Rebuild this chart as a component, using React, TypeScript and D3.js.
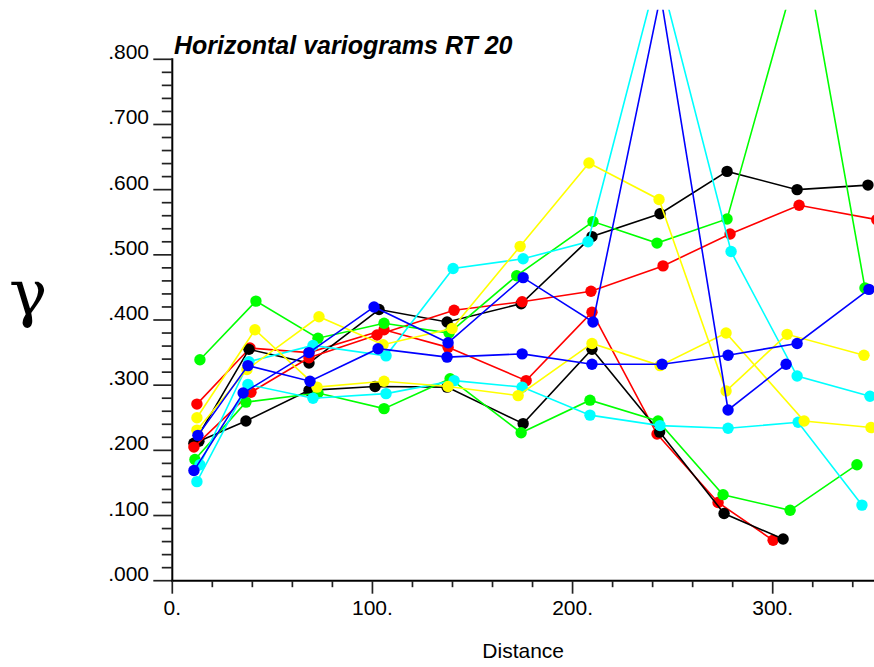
// Horizontal variograms RT 20 — twelve experimental variograms (two per colour),
// drawn with d3 scales + line generator straight into JSX.

import * as d3 from "d3";

const W = 874;
const H = 667;
const FONT = "Liberation Sans, Arial, Helvetica, sans-serif";

// lag distances and gamma values, one pair of arrays per curve
const redLowDist = [12.3, 38.8, 68.3, 105.8, 137.8, 176.8, 209.7, 242.2, 272.7, 300.2];
const redLowGamma = [0.271, 0.357, 0.35, 0.385, 0.358, 0.307, 0.412, 0.225, 0.12, 0.062];

const black2Dist = [13.3, 36.8, 68.3, 101.3, 137.3, 175.3, 209.7, 243.5, 275.7, 305.2];
const black2Gamma = [0.214, 0.245, 0.292, 0.298, 0.297, 0.241, 0.355, 0.228, 0.103, 0.064];

const black1Dist = [10.8, 38.3, 68.3, 103.3, 137.3, 174.3, 209.7, 243.7, 277.2, 312.2, 347.6];
const black1Gamma = [0.211, 0.355, 0.334, 0.416, 0.397, 0.425, 0.528, 0.563, 0.628, 0.6, 0.607];

const redHighDist = [10.8, 39.3, 68.3, 102.3, 140.8, 174.8, 209.2, 245.2, 278.7, 313.2, 352];
const redHighGamma = [0.205, 0.289, 0.342, 0.377, 0.415, 0.428, 0.444, 0.483, 0.532, 0.576, 0.554];

const green1Dist = [13.8, 41.8, 72.8, 105.8, 138.3, 172.1, 210.2, 242.2, 277.2, 315.5, 346.1];
const green1Gamma = [0.339, 0.429, 0.372, 0.395, 0.38, 0.468, 0.551, 0.518, 0.555, 0.975, 0.449];

const green2Dist = [11.3, 36.8, 72.8, 105.8, 138.8, 174.3, 208.7, 242.7, 275.2, 308.7, 342.1];
const green2Gamma = [0.186, 0.274, 0.288, 0.264, 0.31, 0.227, 0.277, 0.245, 0.132, 0.108, 0.178];

const cyan1Dist = [13.8, 38.3, 70.3, 106.8, 140.3, 175.3, 207.7, 243.0, 279.2, 312.2, 348.6];
const cyan1Gamma = [0.178, 0.336, 0.361, 0.345, 0.479, 0.494, 0.52, 0.938, 0.505, 0.314, 0.283];

const cyan2Dist = [12.3, 37.8, 70.3, 106.8, 140.8, 174.8, 208.7, 243.7, 277.7, 312.7, 344.6];
const cyan2Gamma = [0.152, 0.301, 0.28, 0.287, 0.307, 0.297, 0.254, 0.238, 0.234, 0.243, 0.116];

const yellowADist = [12.3, 37.3, 73.3, 105.3, 139.8, 173.8, 208.2, 243.2, 276.7, 307.2, 345.6];
const yellowAGamma = [0.231, 0.324, 0.405, 0.362, 0.387, 0.513, 0.641, 0.585, 0.291, 0.378, 0.346];

const yellowBDist = [12.3, 41.3, 72.3, 105.8, 137.8, 172.8, 209.7, 243.7, 276.7, 315.7, 349.1];
const yellowBGamma = [0.25, 0.385, 0.297, 0.306, 0.298, 0.284, 0.364, 0.33, 0.38, 0.245, 0.235];

const blueADist = [10.8, 35.4, 68.3, 100.8, 137.8, 175.3, 210.2, 244.0, 277.7, 306.7];
const blueAGamma = [0.169, 0.288, 0.35, 0.42, 0.365, 0.465, 0.397, 0.898, 0.262, 0.332];

const blueBDist = [12.8, 37.8, 68.8, 102.8, 137.3, 174.8, 209.7, 244.7, 277.7, 312.2, 348.1];
const blueBGamma = [0.223, 0.33, 0.306, 0.356, 0.343, 0.348, 0.332, 0.332, 0.346, 0.364, 0.447];

const SERIES = [
  { color: "#ff0000", dist: redLowDist, gamma: redLowGamma },
  { color: "#000000", dist: black2Dist, gamma: black2Gamma },
  { color: "#000000", dist: black1Dist, gamma: black1Gamma },
  { color: "#ff0000", dist: redHighDist, gamma: redHighGamma },
  { color: "#00ff00", dist: green1Dist, gamma: green1Gamma },
  { color: "#00ff00", dist: green2Dist, gamma: green2Gamma },
  { color: "#00ffff", dist: cyan1Dist, gamma: cyan1Gamma },
  { color: "#00ffff", dist: cyan2Dist, gamma: cyan2Gamma },
  { color: "#ffff00", dist: yellowADist, gamma: yellowAGamma },
  { color: "#ffff00", dist: yellowBDist, gamma: yellowBGamma },
  { color: "#0000ff", dist: blueADist, gamma: blueAGamma },
  { color: "#0000ff", dist: blueBDist, gamma: blueBGamma },
];

const X_MAJOR = [0, 100, 200, 300];
const X_LABELS = ["0.", "100.", "200.", "300."];
const Y_MAJOR = [0, 0.1, 0.2, 0.3, 0.4, 0.5, 0.6, 0.7, 0.8];
const Y_LABELS = [".000", ".100", ".200", ".300", ".400", ".500", ".600", ".700", ".800"];

export default function App() {
  const x = d3.scaleLinear().domain([0, 300]).range([172.3, 772.7]);
  const y = d3.scaleLinear().domain([0, 0.8]).range([580.7, 59.3]);

  const x0 = x(0);
  const y0 = y(0);
  const clipTop = y(0.876);

  const line = d3
    .line<[number, number]>()
    .x((d) => x(d[0]))
    .y((d) => y(d[1]));

  const xMinor = d3.range(0, 341, 20);
  const yMinor = d3.range(0, 41).map((i) => i * 0.02);

  return (
    <svg
      width={W}
      height={H}
      style={{ position: "absolute", left: 0, top: 0, background: "#fff" }}
      fontFamily={FONT}
    >
      <defs>
        <clipPath id="plot-clip">
          <rect x={x0} y={clipTop} width={W - x0 + 20} height={y0 - clipTop} />
        </clipPath>
      </defs>

      {/* data */}
      <g clipPath="url(#plot-clip)">
        {SERIES.map((s, i) => {
          const pts = s.dist.map((d, j) => [d, s.gamma[j]] as [number, number]);
          return (
            <g key={i}>
              <path d={line(pts) ?? ""} fill="none" stroke={s.color} strokeWidth={1.6} />
              {pts.map((p, j) => (
                <circle key={j} cx={x(p[0])} cy={y(p[1])} r={5.7} fill={s.color} />
              ))}
            </g>
          );
        })}
      </g>

      {/* y axis */}
      <line x1={x0} x2={x0} y1={y(0.8) - 1} y2={y0 + 1} stroke="#000" strokeWidth={2} />
      {yMinor.map((v, i) => (
        <line
          key={i}
          x1={x0 - (i % 5 === 0 ? 19 : 10.5)}
          x2={x0}
          y1={y(v)}
          y2={y(v)}
          stroke="#222"
          strokeWidth={1.7}
        />
      ))}
      {Y_MAJOR.map((v, i) => (
        <text key={i} x={149} y={y(v)} textAnchor="end" fontSize={21} fill="#000">
          {Y_LABELS[i]}
        </text>
      ))}

      {/* x axis */}
      <line x1={x0 - 1} x2={W} y1={y0} y2={y0} stroke="#000" strokeWidth={2} />
      {xMinor.map((d, i) => (
        <line
          key={i}
          x1={x(d)}
          x2={x(d)}
          y1={y0}
          y2={y0 + (d % 100 === 0 ? 13 : 6.5)}
          stroke="#222"
          strokeWidth={1.7}
        />
      ))}
      {X_MAJOR.map((d, i) => (
        <text key={i} x={x(d)} y={615} textAnchor="middle" fontSize={21} fill="#000">
          {X_LABELS[i]}
        </text>
      ))}

      <text x={(x0 + W) / 2} y={658} textAnchor="middle" fontSize={21} fill="#000">
        Distance
      </text>

      <text x={9} y={315} fontFamily="DejaVu Serif, Liberation Serif, serif" fontSize={64} fill="#000">
        γ
      </text>

      <text x={174} y={54} fontSize={25} fontWeight="bold" fontStyle="italic" fill="#000">
        Horizontal variograms RT 20
      </text>
    </svg>
  );
}
